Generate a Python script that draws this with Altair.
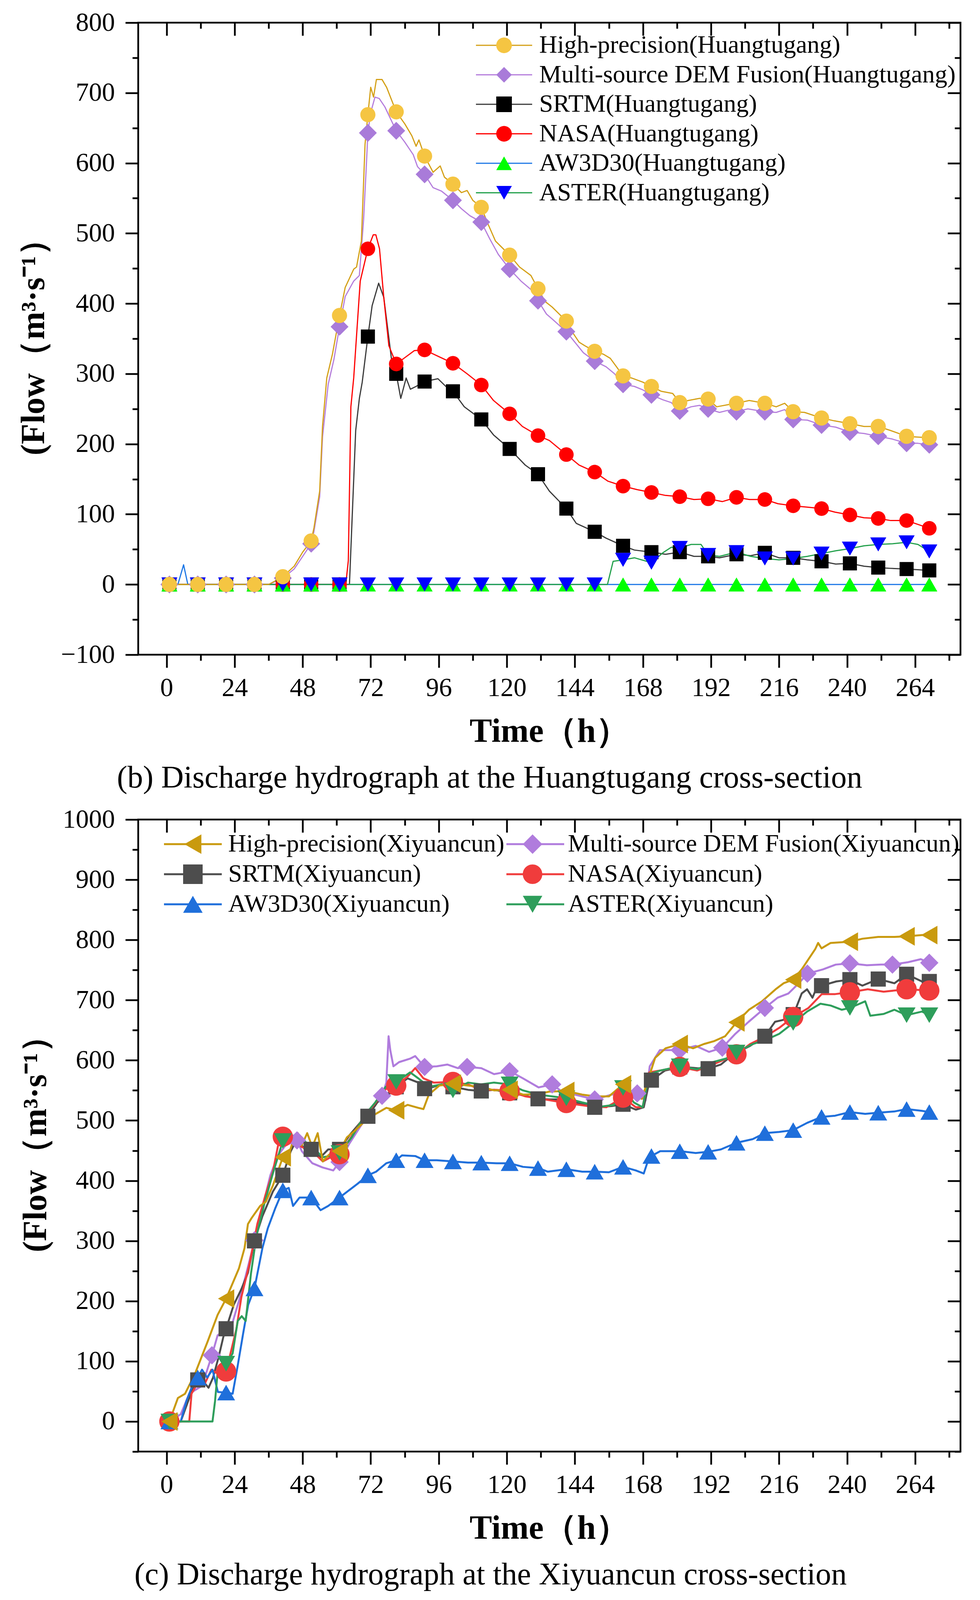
import altair as alt
import pandas as pd

FONT = "Liberation Serif"

# ---------------- shared axis values ----------------
X_DOMAIN = [-10, 280]
X_MAJOR = [0, 24, 48, 72, 96, 120, 144, 168, 192, 216, 240, 264]
X_MINOR = [12, 36, 60, 84, 108, 132, 156, 180, 204, 228, 252, 276]

# ---------------- (b) Huangtugang ----------------
B_NAMES = ["High-precision(Huangtugang)", "Multi-source DEM Fusion(Huangtugang)",
           "SRTM(Huangtugang)", "NASA(Huangtugang)", "AW3D30(Huangtugang)", "ASTER(Huangtugang)"]
B_Y_DOMAIN = [-100, 800]
B_Y_MAJOR = [-100, 0, 100, 200, 300, 400, 500, 600, 700, 800]
B_Y_MINOR = [-50, 50, 150, 250, 350, 450, 550, 650, 750]
B_LINE_COLORS = ["#D4A017", "#B57EDC", "#3A3A3A", "#FF0000", "#1E78E6", "#22A04B"]
B_MARK_COLORS = ["#F5C542", "#A97BD9", "#000000", "#FF0000", "#00FF00", "#0000FF"]
B_SHAPES = ["circle", "diamond", "square", "circle", "triangle-up", "triangle-down"]
B_SIZES = [1500, 2100, 1300, 1400, 1700, 1700]

B_MARK_T = [1, 11, 21, 31, 41, 51, 61, 71, 81, 91, 101, 111, 121, 131, 141, 151, 161, 171,
            181, 191, 201, 211, 221, 231, 241, 251, 261, 269]
B_HP_M = [0, 0, 0, 0, 11, 62, 383, 669, 673, 610, 570, 537, 469, 421, 375, 332, 297, 282,
          259, 264, 258, 258, 246, 237, 229, 225, 211, 209]
B_MS_M = [0, 0, 0, 0, 9, 58, 367, 643, 646, 584, 547, 516, 449, 404, 360, 318, 285, 270,
          247, 250, 246, 246, 235, 227, 217, 211, 201, 199]
B_SRTM_M = [0, 0, 0, 0, 0, 0, 0, 353, 300, 289, 275, 235, 193, 157, 108, 75, 55, 46,
            46, 40, 43, 45, 38, 33, 30, 24, 22, 20]
B_NASA_M = [0, 0, 0, 0, 0, 0, 0, 478, 314, 334, 315, 284, 243, 212, 185, 160, 140, 131,
            125, 122, 124, 121, 112, 108, 99, 94, 91, 80]
B_AW_M = [0, 0, 0, 0, 0, 0, 0, 0, 0, 0, 0, 0, 0, 0, 0, 0, 0, 0,
          0, 0, 0, 0, 0, 0, 0, 0, 0, 0]
B_ASTER_M = [0, 0, 0, 0, 0, 0, 0, 0, 0, 0, 0, 0, 0, 0, 0, 0, 35, 31,
             52, 42, 46, 37, 37, 44, 51, 57, 60, 47]

B_HP_LINE = [[0, 0], [36, 0], [41, 11], [45, 26], [48, 46], [51, 62], [52, 81], [54, 133], [55, 225],
             [56.5, 294], [58.5, 328], [61, 383], [62, 403], [63, 423], [66, 449], [67, 452], [68.7, 489],
             [70, 627], [71, 669], [72, 708], [73, 694], [74, 719], [76, 719], [77.6, 708], [81, 673],
             [84, 656], [86.5, 639], [88, 624], [89, 633], [91, 610], [94, 587], [96.5, 596], [98, 580],
             [101, 570], [104, 558], [106, 561], [108, 547], [111, 537], [113.5, 512], [116, 489],
             [121, 469], [124.5, 452], [128.5, 440], [131, 421], [133.5, 403], [136, 395], [141, 375],
             [143, 360], [145.5, 345], [147.5, 340], [151, 332], [154, 328], [156.5, 322], [158.5, 311],
             [161, 297], [164, 294], [168, 288], [171, 282], [174.5, 275], [178.5, 272], [181, 259],
             [184, 262], [188, 265], [191, 264], [194, 253], [198, 256], [201, 258], [205.5, 262],
             [211, 258], [215, 253], [218, 258], [221, 246], [225, 245], [231, 237], [235.5, 233],
             [241, 229], [246, 225], [251, 225], [255.5, 219], [261, 211], [264.5, 210], [269, 209]]
B_MS_LINE = [[0, 0], [36, 0], [41, 9], [45, 22], [48, 40], [51, 58], [52, 76], [54, 125], [55, 210],
             [57, 285], [59, 320], [61, 367], [63, 410], [66, 432], [68, 440], [69.5, 520], [70.5, 600],
             [71, 643], [72, 672], [73.5, 694], [75, 692], [77, 680], [81, 646], [84, 630], [87, 612],
             [88.5, 595], [91, 584], [94, 565], [97, 560], [101, 547], [104, 535], [107, 525], [111, 516],
             [114, 492], [117, 470], [121, 449], [125, 432], [128.5, 420], [131, 404], [134, 385],
             [136, 378], [141, 360], [144, 345], [147, 330], [151, 318], [155, 310], [158, 300],
             [161, 285], [165, 282], [168, 277], [171, 270], [175, 263], [178, 259], [181, 247],
             [185, 253], [188, 255], [191, 250], [195, 245], [198, 248], [201, 246], [205, 250],
             [211, 246], [215, 245], [218, 249], [221, 235], [226, 234], [231, 227], [236, 224],
             [241, 217], [246, 215], [251, 211], [256, 207], [261, 201], [265, 201], [269, 199]]
B_SRTM_LINE = [[0, 0], [64.5, 0], [66.7, 219], [68, 265], [69, 288], [71, 353], [72.5, 397], [74.8, 429],
               [76.6, 409], [78.4, 351], [79.8, 305], [81, 300], [82.6, 265], [84.5, 294], [86, 278],
               [88, 282], [91, 289], [95.7, 293], [98.5, 282], [101, 275], [105, 253], [111, 235],
               [115.3, 213], [121, 193], [126.5, 170], [131, 157], [135, 133], [141, 108], [144.5, 87],
               [151, 75], [155, 66], [161, 55], [165, 49], [171, 46], [176, 43], [181, 46], [186, 40],
               [191, 40], [195, 38], [201, 43], [206, 41], [211, 45], [216, 38], [221, 38], [226, 35],
               [231, 33], [236, 29], [241, 30], [246, 26], [251, 24], [255, 23], [261, 22], [269, 20]]
B_NASA_LINE = [[0, 0], [63.2, 0], [64.1, 34], [65, 253], [66, 294], [68.3, 432], [71, 478], [72.9, 498],
               [73.8, 498], [75.1, 478], [76.6, 409], [78.4, 340], [81, 314], [83.7, 322], [87.4, 333],
               [91, 334], [95.7, 325], [101, 315], [106, 300], [111, 284], [115.3, 262], [121, 243],
               [125.5, 225], [131, 212], [135, 205], [141, 185], [145.5, 170], [151, 160], [155.7, 147],
               [161, 140], [166, 135], [171, 131], [175.7, 127], [181, 125], [186, 121], [191, 122],
               [196, 118], [201, 124], [205.6, 121], [211, 121], [215.6, 115], [221, 112], [226.3, 110],
               [231, 108], [235.7, 103], [241, 99], [246, 95], [251, 94], [255.4, 91], [261, 91], [269, 80]]
B_AW_LINE = [[0, 0], [4, 0], [6, 28], [7.5, 0], [269, 0]]
B_ASTER_LINE = [[0, 0], [155.5, 0], [157.5, 33], [161, 35], [165, 38], [171, 31], [175, 45], [178, 53],
                [181, 52], [185, 57], [188.5, 57], [191, 42], [195, 40], [201, 46], [206, 40], [211, 37],
                [216, 35], [221, 37], [226, 40], [231, 44], [236, 48], [241, 51], [246, 55], [251, 57],
                [256, 58], [261, 60], [265, 57], [269, 47]]

# ---------------- (c) Xiyuancun ----------------
C_NAMES = ["High-precision(Xiyuancun)", "Multi-source DEM Fusion(Xiyuancun)", "SRTM(Xiyuancun)",
           "NASA(Xiyuancun)", "AW3D30(Xiyuancun)", "ASTER(Xiyuancun)"]
C_Y_DOMAIN = [-50, 1000]
C_Y_MAJOR = [0, 100, 200, 300, 400, 500, 600, 700, 800, 900, 1000]
C_Y_MINOR = [-50, 50, 150, 250, 350, 450, 550, 650, 750, 850, 950]
C_COLORS = ["#C99A0E", "#B07CDD", "#4D4D4D", "#F03C3C", "#1F6FDB", "#2E9E5B"]
C_SHAPES = ["triangle-left", "diamond", "square", "circle", "triangle-up", "triangle-down"]
C_SIZES = [2300, 2200, 1500, 2700, 2100, 2100]

C_T20 = [1, 21, 41, 61, 81, 101, 121, 141, 161, 181, 201, 221, 241, 261, 269]
C_T15 = [1, 16, 31, 46, 61, 76, 91, 106, 121, 136, 151, 166, 181, 196, 211, 226, 241, 256, 269]
C_T10 = [1, 11, 21, 31, 41, 51, 61, 71, 81, 91, 101, 111, 121, 131, 141, 151, 161, 171,
         181, 191, 201, 211, 221, 231, 241, 251, 261, 269]
C_HP_M = [0, 204, 439, 449, 517, 561, 551, 549, 560, 627, 663, 734, 797, 806, 808]
C_MS_M = [0, 110, 301, 467, 431, 541, 589, 589, 582, 560, 535, 545, 617, 621, 687, 744, 761, 759, 762]
C_SRTM_M = [0, 69, 154, 300, 409, 452, 452, 507, 556, 553, 556, 549, 546, 536, 532, 522, 527, 567,
            589, 586, 611, 640, 676, 724, 734, 735, 743, 731]
C_NASA_M = [0, 83, 473, 444, 558, 564, 549, 529, 538, 589, 610, 672, 713, 718, 716]
C_AW_M = [0, 73, 48, 221, 384, 372, 372, 409, 434, 434, 432, 430, 429, 421, 419, 415, 423, 441,
          449, 448, 463, 479, 484, 506, 514, 513, 519, 514]
C_ASTER_M = [0, 96, 466, 446, 564, 550, 560, 537, 554, 590, 613, 662, 687, 675, 675]

C_HP_LINE = [[1, 0], [4, 39], [6.5, 46], [10, 79], [14.5, 133], [18, 177], [21, 204], [25.5, 254],
             [27.5, 288], [28.7, 328], [30, 338], [33, 358], [35, 365], [37.5, 392], [41, 439], [43, 442],
             [45, 472], [46.3, 479], [47.7, 459], [49.6, 479], [51.4, 456], [53.3, 479], [55.1, 432],
             [57, 442], [58.8, 449], [61, 449], [63.6, 472], [66.4, 483], [70, 499], [73.8, 511],
             [77.5, 521], [81, 517], [85, 526], [88.8, 521], [90.6, 519], [92.5, 543], [96.2, 558],
             [101, 561], [106.3, 558], [111, 556], [115.5, 550], [121, 551], [125.7, 543], [131.3, 544],
             [135, 548], [141, 549], [146.6, 543], [151.3, 540], [156, 540], [161, 560], [164.8, 543],
             [167.6, 536], [169.5, 563], [172.3, 604], [176, 620], [181, 627], [185.7, 620], [189.5, 627],
             [193.2, 632], [197, 640], [201, 663], [205.4, 684], [210, 698], [214.8, 718], [217.6, 728],
             [221, 734], [224, 751], [228.8, 785], [229.8, 795], [231, 786], [234.2, 795], [241, 797],
             [245.4, 802], [251, 805], [256.7, 805], [261, 806], [266.4, 808], [269, 808]]
C_MS_LINE = [[1, 0], [5, 12], [8, 46], [10, 52], [12.5, 59], [16, 110], [18, 143], [20.8, 153], [23, 160],
             [25.5, 200], [27.8, 240], [30, 281], [31, 301], [33.8, 355], [36.6, 409], [39.3, 442],
             [42, 459], [46, 467], [47.7, 449], [51.4, 429], [55, 422], [58.8, 417], [61, 431],
             [64.5, 462], [68.2, 489], [72, 516], [76, 541], [77.5, 563], [78.3, 640], [78.9, 617],
             [80, 590], [82, 597], [86, 603], [87.7, 607], [91, 589], [95.3, 590], [99, 593],
             [102.7, 587], [106, 589], [111, 587], [115.5, 577], [121, 582], [125.7, 570], [131.2, 555],
             [136, 560], [140, 546], [144, 543], [151, 535], [157, 543], [161.7, 546], [166, 545],
             [168.9, 533], [170.4, 590], [174, 617], [181, 617], [186.6, 624], [191.3, 614], [196, 621],
             [200.6, 644], [205.3, 664], [211, 687], [215.5, 704], [219.3, 711], [223, 728], [226, 744],
             [231.5, 751], [236, 759], [241, 761], [247, 758], [252, 759], [256, 759], [261.5, 763],
             [266, 768], [269, 762]]
C_SRTM_LINE = [[1, 0], [5, 0], [8, 39], [10.5, 69], [12.5, 69], [14.8, 56], [16.4, 73], [18.3, 106],
               [20, 140], [21, 154], [23.7, 194], [26.4, 220], [28.7, 247], [31, 300], [33.8, 341],
               [37.5, 382], [41, 409], [43.8, 449], [46, 469], [48.8, 452], [51, 452], [54.3, 439],
               [57, 452], [61, 452], [64.6, 476], [68.2, 496], [71, 507], [74.3, 530], [77.5, 543],
               [81, 556], [85, 570], [88.8, 563], [91, 553], [94.2, 556], [97, 560], [101, 556],
               [106.3, 551], [111, 549], [115.5, 551], [121, 546], [125.7, 542], [131, 536], [135, 535],
               [139, 535], [144, 530], [151, 522], [157, 524], [161, 527], [165.5, 518], [168.3, 522],
               [170.2, 563], [171, 567], [175.8, 583], [181.5, 589], [187, 587], [191, 586], [195.5, 593],
               [200.2, 611], [205.8, 624], [211, 640], [214.6, 664], [217.4, 667], [221.2, 677], [224, 711],
               [225.9, 718], [227.8, 704], [229.6, 724], [231, 724], [236.2, 731], [241, 734],
               [245.4, 724], [251, 735], [256.7, 728], [261, 743], [266.4, 731], [269, 731]]
C_NASA_LINE = [[1, 0], [8, 0], [8.8, 46], [10.7, 62], [13.4, 62], [15.8, 86], [18.1, 79], [21, 83],
               [24.6, 153], [26.4, 207], [29.2, 261], [32, 328], [34.8, 375], [37.5, 415], [40.3, 482],
               [41, 473], [44, 469], [47.7, 456], [51.4, 449], [55.1, 432], [57.9, 439], [61, 444],
               [64.6, 469], [69.2, 503], [73.8, 530], [77.5, 553], [81, 558], [85, 573], [87.7, 587],
               [90.6, 570], [94.2, 563], [101, 564], [106.3, 560], [110.9, 551], [116.4, 551], [121, 549],
               [126.6, 540], [132.2, 536], [141, 529], [148.6, 524], [155.1, 522], [161, 538], [165.5, 522],
               [167.9, 522], [170.2, 580], [174.1, 583], [181, 589], [187.1, 583], [192.7, 593], [201, 610],
               [205.8, 627], [211.4, 640], [216.1, 654], [221, 672], [226.4, 687], [231.1, 710],
               [235.8, 710], [241, 713], [247.3, 718], [252.9, 714], [261, 718], [269, 716]]
C_AW_LINE = [[1, 0], [5, 0], [7, 34], [9.7, 67], [11, 73], [12.5, 86], [14.3, 73], [16.2, 86], [18.1, 49],
             [21, 48], [23.3, 46], [25.1, 93], [27, 146], [28.8, 194], [31, 221], [33.8, 288], [35.7, 321],
             [38.4, 355], [41, 384], [43.1, 388], [44.6, 358], [46.9, 372], [51, 372], [54.3, 351],
             [57, 358], [61, 372], [64.6, 385], [67.4, 395], [71, 409], [73.9, 415], [77.5, 429],
             [81, 434], [83, 442], [87.7, 441], [91, 434], [95.3, 434], [101, 432], [106.3, 430],
             [111, 430], [116.4, 429], [121, 429], [125.7, 423], [131, 421], [134.4, 415], [141, 419],
             [146.6, 415], [151, 415], [156, 414], [161, 423], [165.5, 417], [168.3, 412], [170.2, 439],
             [174.1, 449], [181, 449], [186.6, 446], [191, 448], [195.5, 452], [201, 463], [206.7, 469],
             [211, 479], [216.1, 481], [221, 484], [225.9, 496], [231, 506], [235.8, 508], [241, 514],
             [246.4, 511], [251, 513], [256.7, 515], [261, 519], [266.4, 516], [269, 514]]
C_ASTER_LINE = [[1, 0], [16.2, 0], [17.1, 34], [18.1, 87], [21, 96], [23.3, 113], [25.1, 167], [26.5, 175],
                [27.9, 167], [29.8, 247], [31.7, 308], [34.5, 362], [37.3, 409], [41, 466], [44, 476],
                [47.7, 469], [51.4, 456], [55.1, 439], [58.8, 442], [61, 446], [65.3, 472], [69.9, 509],
                [73.6, 530], [77.3, 556], [81, 564], [85.9, 580], [88.8, 570], [92.5, 556], [97.1, 560],
                [101, 550], [106.3, 563], [110.9, 560], [115.5, 563], [121, 560], [125.7, 550],
                [131.2, 543], [141, 537], [146.6, 530], [153.2, 523], [157.8, 526], [161, 554],
                [164.8, 530], [167.9, 522], [170.2, 577], [174.1, 583], [181, 590], [187.1, 585],
                [192.7, 597], [197.4, 603], [201, 613], [206.7, 627], [211.4, 634], [216.1, 644],
                [221, 662], [225.9, 681], [230.6, 694], [234.2, 691], [238.1, 684], [241, 687],
                [246.4, 698], [248.2, 674], [252.9, 677], [256.7, 684], [261, 675], [266.4, 681], [269, 675]]

# draw order of series (High-precision drawn last, on top)
DRAW_ORDER = [1, 2, 3, 4, 5, 0]

BASE_SHAPES = {
    "circle": "M1,0A1,1,0,1,1,-1,0A1,1,0,1,1,1,0Z",
    "diamond": "M0,-1L1,0L0,1L-1,0Z",
    "square": "M-1,-1L1,-1L1,1L-1,1Z",
    "triangle-up": "M0,-0.87L1,0.87L-1,0.87Z",
    "triangle-down": "M-1,-0.87L1,-0.87L0,0.87Z",
    "triangle-left": "M-0.87,0L0.87,-1L0.87,1Z",
}

AX = dict(grid=False, domain=False, tickColor="black", tickWidth=4.5, labelColor="black",
          titleColor="black", labelFont=FONT, titleFont=FONT, labelFontSize=67, titleFontSize=86,
          titleFontWeight="bold", labelOverlap=False, labelFlush=False)

PLOT_W = 2106
PLOT_H = 1618


def make_panel(names, lines, mark_t, mark_v, line_colors, mark_colors, shape_kinds, sizes,
               ydom, ymaj, ymin, lw, leg, caption):
    r = leg["r"]
    g = leg["half"] / r
    g2 = g + (lw / 2.0) / r          # same horizontal extent as the stroked legend line
    ss = (2 * r) ** 2
    ghost = f"M{-g2:.4f},0L{-g2:.4f},0M{g2:.4f},0L{g2:.4f},0"
    shapes = [ghost + BASE_SHAPES[k] for k in shape_kinds]
    lkeys = ["L|" + n for n in names]

    lrows, prows = [], []
    for i in DRAW_ORDER:
        for t, v in lines[i]:
            lrows.append({"t": t, "v": v, "lkey": lkeys[i]})
        for t, v in zip(mark_t[i], mark_v[i]):
            prows.append({"t": t, "v": v, "series": names[i], "sz": sizes[i]})
    ldf = pd.DataFrame(lrows)
    pdf = pd.DataFrame(prows)

    xs = alt.Scale(domain=X_DOMAIN, nice=False, zero=False)
    ys = alt.Scale(domain=ydom, nice=False, zero=False)

    common = dict(orient="none", legendX=leg["x"], legendY=leg["y"], title=None, columns=leg["cols"],
                  direction="horizontal", symbolSize=ss, labelFont=FONT, labelFontSize=64,
                  labelLimit=4000, labelOffset=leg["lo"], rowPadding=leg["rp"], columnPadding=leg["cp"],
                  padding=0, symbolOpacity=1, gridAlign="each")
    leg_line = alt.Legend(symbolType=f"M{-g:.4f},0L{g:.4f},0", symbolStrokeWidth=lw, labelOpacity=0,
                          labelExpr="substring(datum.label, 2)", zindex=1, **common)
    leg_mark = alt.Legend(symbolStrokeWidth=0, labelColor="black", zindex=2, **common)

    line_layer = alt.Chart(ldf).mark_line(strokeWidth=lw, strokeJoin="round").encode(
        x=alt.X("t:Q", scale=xs, axis=alt.Axis(orient="bottom", values=X_MAJOR, title="Time（h）",
                                               tickSize=33, labelPadding=19, titlePadding=36, **AX)),
        y=alt.Y("v:Q", scale=ys, axis=alt.Axis(orient="left", values=ymaj, title="(Flow（m³·s⁻¹）",
                                               format="d", tickSize=33, labelPadding=27, titlePadding=25,
                                               **AX)),
        color=alt.Color("lkey:N", scale=alt.Scale(domain=lkeys, range=line_colors), legend=leg_line),
    )
    point_layer = alt.Chart(pdf).mark_point(filled=True, opacity=1, strokeWidth=0).encode(
        x=alt.X("t:Q", scale=xs, axis=alt.Axis(orient="bottom", values=X_MINOR, labels=False, title=None,
                                               tickSize=15, **AX)),
        y=alt.Y("v:Q", scale=ys, axis=alt.Axis(orient="left", values=ymin, labels=False, title=None,
                                               tickSize=15, **AX)),
        fill=alt.Fill("series:N", scale=alt.Scale(domain=names, range=mark_colors), legend=leg_mark),
        shape=alt.Shape("series:N", scale=alt.Scale(domain=names, range=shapes), legend=leg_mark),
        size=alt.Size("sz:Q", scale=None),
    )
    empty = alt.Chart(pdf).transform_filter(alt.datum.t < -1000).mark_point(opacity=0)
    top_right_major = empty.encode(
        x=alt.X("t:Q", scale=xs, axis=alt.Axis(orient="top", values=X_MAJOR, labels=False, title=None,
                                               tickSize=33, offset=-33, **AX)),
        y=alt.Y("v:Q", scale=ys, axis=alt.Axis(orient="right", values=ymaj, labels=False, title=None,
                                               tickSize=33, offset=-33, **AX)),
    )
    top_right_minor = empty.encode(
        x=alt.X("t:Q", scale=xs, axis=alt.Axis(orient="top", values=X_MINOR, labels=False, title=None,
                                               tickSize=15, offset=-15, **AX)),
        y=alt.Y("v:Q", scale=ys, axis=alt.Axis(orient="right", values=ymin, labels=False, title=None,
                                               tickSize=15, offset=-15, **AX)),
    )
    return alt.layer(line_layer, point_layer, top_right_major, top_right_minor).resolve_axis(
        x="independent", y="independent"
    ).properties(
        width=PLOT_W, height=PLOT_H,
        title=alt.TitleParams(text=caption, orient="bottom", anchor="middle", frame="bounds", font=FONT,
                              fontSize=80, fontWeight="normal", color="black", offset=38),
    )


top = make_panel(
    B_NAMES,
    [B_HP_LINE, B_MS_LINE, B_SRTM_LINE, B_NASA_LINE, B_AW_LINE, B_ASTER_LINE],
    [B_MARK_T] * 6,
    [B_HP_M, B_MS_M, B_SRTM_M, B_NASA_M, B_AW_M, B_ASTER_M],
    B_LINE_COLORS, B_MARK_COLORS, B_SHAPES, B_SIZES,
    B_Y_DOMAIN, B_Y_MAJOR, B_Y_MINOR, 3,
    dict(x=905, y=26, r=20, half=72, lo=58, rp=11.5, cols=1, cp=0),
    "(b) Discharge hydrograph at the Huangtugang cross-section",
)
bottom = make_panel(
    C_NAMES,
    [C_HP_LINE, C_MS_LINE, C_SRTM_LINE, C_NASA_LINE, C_AW_LINE, C_ASTER_LINE],
    [C_T20, C_T15, C_T10, C_T20, C_T10, C_T20],
    [C_HP_M, C_MS_M, C_SRTM_M, C_NASA_M, C_AW_M, C_ASTER_M],
    C_COLORS, C_COLORS, C_SHAPES, C_SIZES,
    C_Y_DOMAIN, C_Y_MAJOR, C_Y_MINOR, 5,
    dict(x=108, y=31, r=25, half=74, lo=58.5, rp=13, cols=2, cp=-5),
    "(c) Discharge hydrograph at the Xiyuancun cross-section",
)

chart = alt.vconcat(top, bottom, spacing=26).resolve_scale(
    color="independent", fill="independent", shape="independent", size="independent"
).properties(
    padding={"left": 33, "top": 13, "right": 0, "bottom": 0}
).configure(background="white", font=FONT).configure_view(stroke="black", strokeWidth=4.5)

chart.save("out.html", embed_options={"renderer": "svg", "actions": False})
